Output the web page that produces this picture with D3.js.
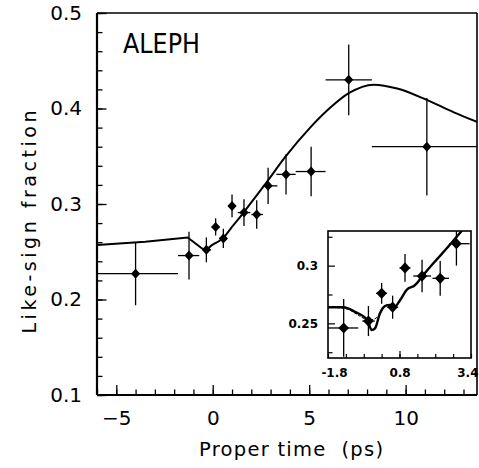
<!DOCTYPE html>
<html>
<head>
<meta charset="utf-8">
<script src="https://cdn.jsdelivr.net/npm/d3@7"></script>
<style>
  html, body { margin: 0; padding: 0; background: #fff; }
  svg { display: block; }
  text { font-family: "DejaVu Sans", sans-serif; fill: #000; }
</style>
</head>
<body>
<svg id="chart" width="479" height="468"></svg>
<script>
// ---------------- data ----------------
const pointX = [-4, -1.23, -0.33, 0.15, 0.55, 1.0, 1.62, 2.28, 2.87, 3.8, 5.1, 7.05, 11.1];
const pointY = [0.227, 0.246, 0.252, 0.276, 0.264, 0.298, 0.291, 0.289, 0.319, 0.331, 0.334, 0.430, 0.360];
const errY   = [0.033, 0.025, 0.013, 0.009, 0.010, 0.012, 0.014, 0.015, 0.019, 0.021, 0.026, 0.037, 0.051];
const binLo  = [-6.3, -1.8, -0.55, -0.05, 0.35, 0.8, 1.3, 2.0, 2.6, 3.3, 4.3, 5.85, 8.25];
const binHi  = [-1.8, -0.7, -0.1, 0.35, 0.75, 1.2, 1.95, 2.6, 3.35, 4.3, 5.85, 8.25, 14.5];

const curveX = [-6, -3.5, -1.3, -0.4, 0, 0.5, 1.0, 1.6, 2.2, 2.8, 3.75, 5.05, 6.1, 7.05, 8.35, 9.56, 11.1, 12.5, 13.7];
const curveY = [0.257, 0.2605, 0.265, 0.251, 0.2575, 0.2635, 0.276, 0.291, 0.307, 0.323, 0.349, 0.380, 0.401, 0.416, 0.425, 0.421, 0.409, 0.396, 0.386];
const curveKink = 3; // index where the fit changes from straight pieces to a smooth curve

const insetSolidX = [-1.8, -1.24, -0.82, -0.37, -0.21, -0.09, 0.09, 0.27, 0.45, 0.61, 0.82, 1.06, 1.36, 1.67, 2.03, 2.52, 2.88, 3.2];
const insetSolidY = [0.264, 0.264, 0.260, 0.253, 0.2442, 0.2457, 0.2587, 0.265, 0.266, 0.264, 0.270, 0.279, 0.283, 0.292, 0.302, 0.315, 0.325, 0.334];
const insetDashX = [-1.8, -1.2, -0.27, 0.03, 0.33, 0.55];
const insetDashY = [0.264, 0.263, 0.253, 0.256, 0.266, 0.265];

const mainXMajor = [-5, 0, 5, 10];
const mainXLabels = ["\u22125", "0", "5", "10"];
const mainXMinor = d3.range(-6, 14, 1);
const mainYMajor = [0.1, 0.2, 0.3, 0.4, 0.5];
const mainYLabels = ["0.1", "0.2", "0.3", "0.4", "0.5"];
const mainYMinor = d3.range(0.1, 0.5001, 0.02);

const insetXMajor = [-1.8, 0.8, 3.4];
const insetXLabels = ["-1.8", "0.8", "3.4"];
const insetXMinor = d3.range(-1.8, 3.4001, 0.65);
const insetYMajor = [0.25, 0.3];
const insetYLabels = ["0.25", "0.3"];
const insetYMinor = [0.225, 0.275, 0.325];

// ---------------- layout ----------------
const svg = d3.select("#chart");
const M = { left: 97, right: 477, top: 13, bottom: 395 };
const I = { left: 328, right: 471, top: 231, bottom: 358 };

const x = d3.scaleLinear().domain([-6, 13.7]).range([M.left, M.right]);
const y = d3.scaleLinear().domain([0.1, 0.5]).range([M.bottom, M.top]);
const xi = d3.scaleLinear().domain([-1.8, 3.4]).range([I.left, I.right]);
const yi = d3.scaleLinear().domain([0.22, 0.33]).range([I.bottom, I.top]);

const defs = svg.append("defs");
defs.append("clipPath").attr("id", "clipMain").append("rect")
  .attr("x", M.left).attr("y", M.top).attr("width", M.right - M.left).attr("height", M.bottom - M.top);
defs.append("clipPath").attr("id", "clipInset").append("rect")
  .attr("x", I.left).attr("y", I.top).attr("width", I.right - I.left).attr("height", I.bottom - I.top);

function diamond(hw, hh) {
  return `M0,${-hh}L${hw},0L0,${hh}L${-hw},0Z`;
}

function styleAxis(g, w) {
  g.select(".domain").remove();
  g.selectAll(".tick line").attr("stroke", "#000").attr("stroke-width", w);
}

// ---------------- main axes ----------------
const gxMinor = svg.append("g").attr("transform", `translate(0,${M.bottom})`)
  .call(d3.axisBottom(x).tickValues(mainXMinor).tickSize(-5.5).tickFormat(""));
styleAxis(gxMinor, 1.3);
const gxMajor = svg.append("g").attr("transform", `translate(0,${M.bottom})`)
  .call(d3.axisBottom(x).tickValues(mainXMajor).tickSize(-10).tickPadding(16)
    .tickFormat((d, i) => mainXLabels[i]));
styleAxis(gxMajor, 1.3);
gxMajor.selectAll("text").attr("font-size", 20).attr("font-family", "DejaVu Sans");

const gyMinor = svg.append("g").attr("transform", `translate(${M.left},0)`)
  .call(d3.axisLeft(y).tickValues(mainYMinor).tickSize(-5.5).tickFormat(""));
styleAxis(gyMinor, 1.3);
const gyMajor = svg.append("g").attr("transform", `translate(${M.left},0)`)
  .call(d3.axisLeft(y).tickValues(mainYMajor).tickSize(-9.5).tickPadding(15)
    .tickFormat((d, i) => mainYLabels[i]));
styleAxis(gyMajor, 1.3);
gyMajor.selectAll("text").attr("font-size", 20).attr("font-family", "DejaVu Sans");

// frame
svg.append("line").attr("x1", M.left).attr("x2", M.right).attr("y1", M.top).attr("y2", M.top)
  .attr("stroke", "#000").attr("stroke-width", 1.6);
svg.append("line").attr("x1", M.right).attr("x2", M.right).attr("y1", M.top).attr("y2", M.bottom)
  .attr("stroke", "#000").attr("stroke-width", 1.6);
svg.append("line").attr("x1", M.left).attr("x2", M.right).attr("y1", M.bottom).attr("y2", M.bottom)
  .attr("stroke", "#000").attr("stroke-width", 2);
svg.append("line").attr("x1", M.left).attr("x2", M.left).attr("y1", M.top).attr("y2", M.bottom)
  .attr("stroke", "#000").attr("stroke-width", 2.2);

// titles
svg.append("text").attr("x", 291).attr("y", 456)
  .attr("text-anchor", "middle").attr("font-size", 19.5)
  .attr("textLength", 184).attr("lengthAdjust", "spacing")
  .text("Proper time\u00A0 (ps)");
svg.append("text").attr("transform", `translate(36,${222}) rotate(-90)`)
  .attr("text-anchor", "middle").attr("font-size", 19)
  .attr("textLength", 223).attr("lengthAdjust", "spacing")
  .text("Like-sign fraction");
svg.append("text").attr("x", 123).attr("y", 53).attr("font-size", 26)
  .attr("textLength", 77).attr("lengthAdjust", "spacingAndGlyphs")
  .text("ALEPH");

// ---------------- main marks ----------------
const main = svg.append("g").attr("clip-path", "url(#clipMain)");
const curvePts = curveX.map((d, i) => [d, curveY[i]]);
main.append("path")
  .attr("d", d3.line().x(d => x(d[0])).y(d => y(d[1])).curve(d3.curveLinear)(curvePts.slice(0, curveKink + 1)))
  .attr("fill", "none").attr("stroke", "#000").attr("stroke-width", 2);
main.append("path")
  .attr("d", d3.line().x(d => x(d[0])).y(d => y(d[1])).curve(d3.curveMonotoneX)(curvePts.slice(curveKink)))
  .attr("fill", "none").attr("stroke", "#000").attr("stroke-width", 2);

const pts = pointX.map((d, i) => ({ x: d, y: pointY[i], e: errY[i], lo: binLo[i], hi: binHi[i] }));
const pg = main.selectAll("g.pt").data(pts).enter().append("g");
pg.append("line").attr("x1", d => x(d.lo)).attr("x2", d => x(d.hi))
  .attr("y1", d => y(d.y)).attr("y2", d => y(d.y))
  .attr("stroke", "#000").attr("stroke-width", 1.3);
pg.append("line").attr("x1", d => x(d.x)).attr("x2", d => x(d.x))
  .attr("y1", d => y(d.y - d.e)).attr("y2", d => y(d.y + d.e))
  .attr("stroke", "#000").attr("stroke-width", 1.3);
pg.append("path").attr("transform", d => `translate(${x(d.x)},${y(d.y)})`)
  .attr("d", diamond(4.6, 5)).attr("fill", "#000");

// ---------------- inset ----------------
svg.append("rect").attr("x", I.left).attr("y", I.top)
  .attr("width", I.right - I.left).attr("height", I.bottom - I.top).attr("fill", "#fff");

const ixMinor = svg.append("g").attr("transform", `translate(0,${I.bottom})`)
  .call(d3.axisBottom(xi).tickValues(insetXMinor).tickSize(-4).tickFormat(""));
styleAxis(ixMinor, 1.2);
const ixMajor = svg.append("g").attr("transform", `translate(0,${I.bottom})`)
  .call(d3.axisBottom(xi).tickValues([0.8]).tickSize(-7).tickFormat(""));
styleAxis(ixMajor, 1.2);
const ixLab = svg.append("g").attr("transform", `translate(0,${I.bottom})`)
  .call(d3.axisBottom(xi).tickValues(insetXMajor).tickSize(0).tickPadding(10)
    .tickFormat((d, i) => insetXLabels[i]));
styleAxis(ixLab, 0);
ixLab.selectAll("text").attr("font-size", 12).attr("font-weight", "bold")
  .attr("font-family", "DejaVu Sans")
  .attr("text-anchor", (d, i) => i === 2 ? "end" : "middle")
  .attr("dx", (d, i) => i === 0 ? 6 : (i === 2 ? 7 : 0));

const iyMinor = svg.append("g").attr("transform", `translate(${I.left},0)`)
  .call(d3.axisLeft(yi).tickValues(insetYMinor).tickSize(-4.5).tickFormat(""));
styleAxis(iyMinor, 1.2);
const iyMajor = svg.append("g").attr("transform", `translate(${I.left},0)`)
  .call(d3.axisLeft(yi).tickValues(insetYMajor).tickSize(-7).tickPadding(10)
    .tickFormat((d, i) => insetYLabels[i]));
styleAxis(iyMajor, 1.2);
iyMajor.selectAll("text").attr("font-size", 12).attr("font-weight", "bold")
  .attr("font-family", "DejaVu Sans");

const inset = svg.append("g").attr("clip-path", "url(#clipInset)");
inset.append("path")
  .attr("d", d3.line().x(d => xi(d[0])).y(d => yi(d[1])).curve(d3.curveMonotoneX)(insetDashX.map((d, i) => [d, insetDashY[i]])))
  .attr("fill", "none").attr("stroke", "#000").attr("stroke-width", 1).attr("stroke-dasharray", "3,1.5");
inset.append("path")
  .attr("d", d3.line().x(d => xi(d[0])).y(d => yi(d[1])).curve(d3.curveMonotoneX)(insetSolidX.map((d, i) => [d, insetSolidY[i]])))
  .attr("fill", "none").attr("stroke", "#000").attr("stroke-width", 2.4);

const ipts = pts.filter(d => d.x > -1.8 && d.x < 3.4);
const ig = inset.selectAll("g.ipt").data(ipts).enter().append("g");
ig.append("line").attr("x1", d => xi(d.lo)).attr("x2", d => xi(d.hi))
  .attr("y1", d => yi(d.y)).attr("y2", d => yi(d.y))
  .attr("stroke", "#000").attr("stroke-width", 1.3);
ig.append("line").attr("x1", d => xi(d.x)).attr("x2", d => xi(d.x))
  .attr("y1", d => yi(d.y - d.e)).attr("y2", d => yi(d.y + d.e))
  .attr("stroke", "#000").attr("stroke-width", 1.3);
ig.append("path").attr("transform", d => `translate(${xi(d.x)},${yi(d.y)})`)
  .attr("d", diamond(5.3, 5.6)).attr("fill", "#000");

svg.append("rect").attr("x", I.left).attr("y", I.top)
  .attr("width", I.right - I.left).attr("height", I.bottom - I.top)
  .attr("fill", "none").attr("stroke", "#000").attr("stroke-width", 1.6);
</script>
</body>
</html>
